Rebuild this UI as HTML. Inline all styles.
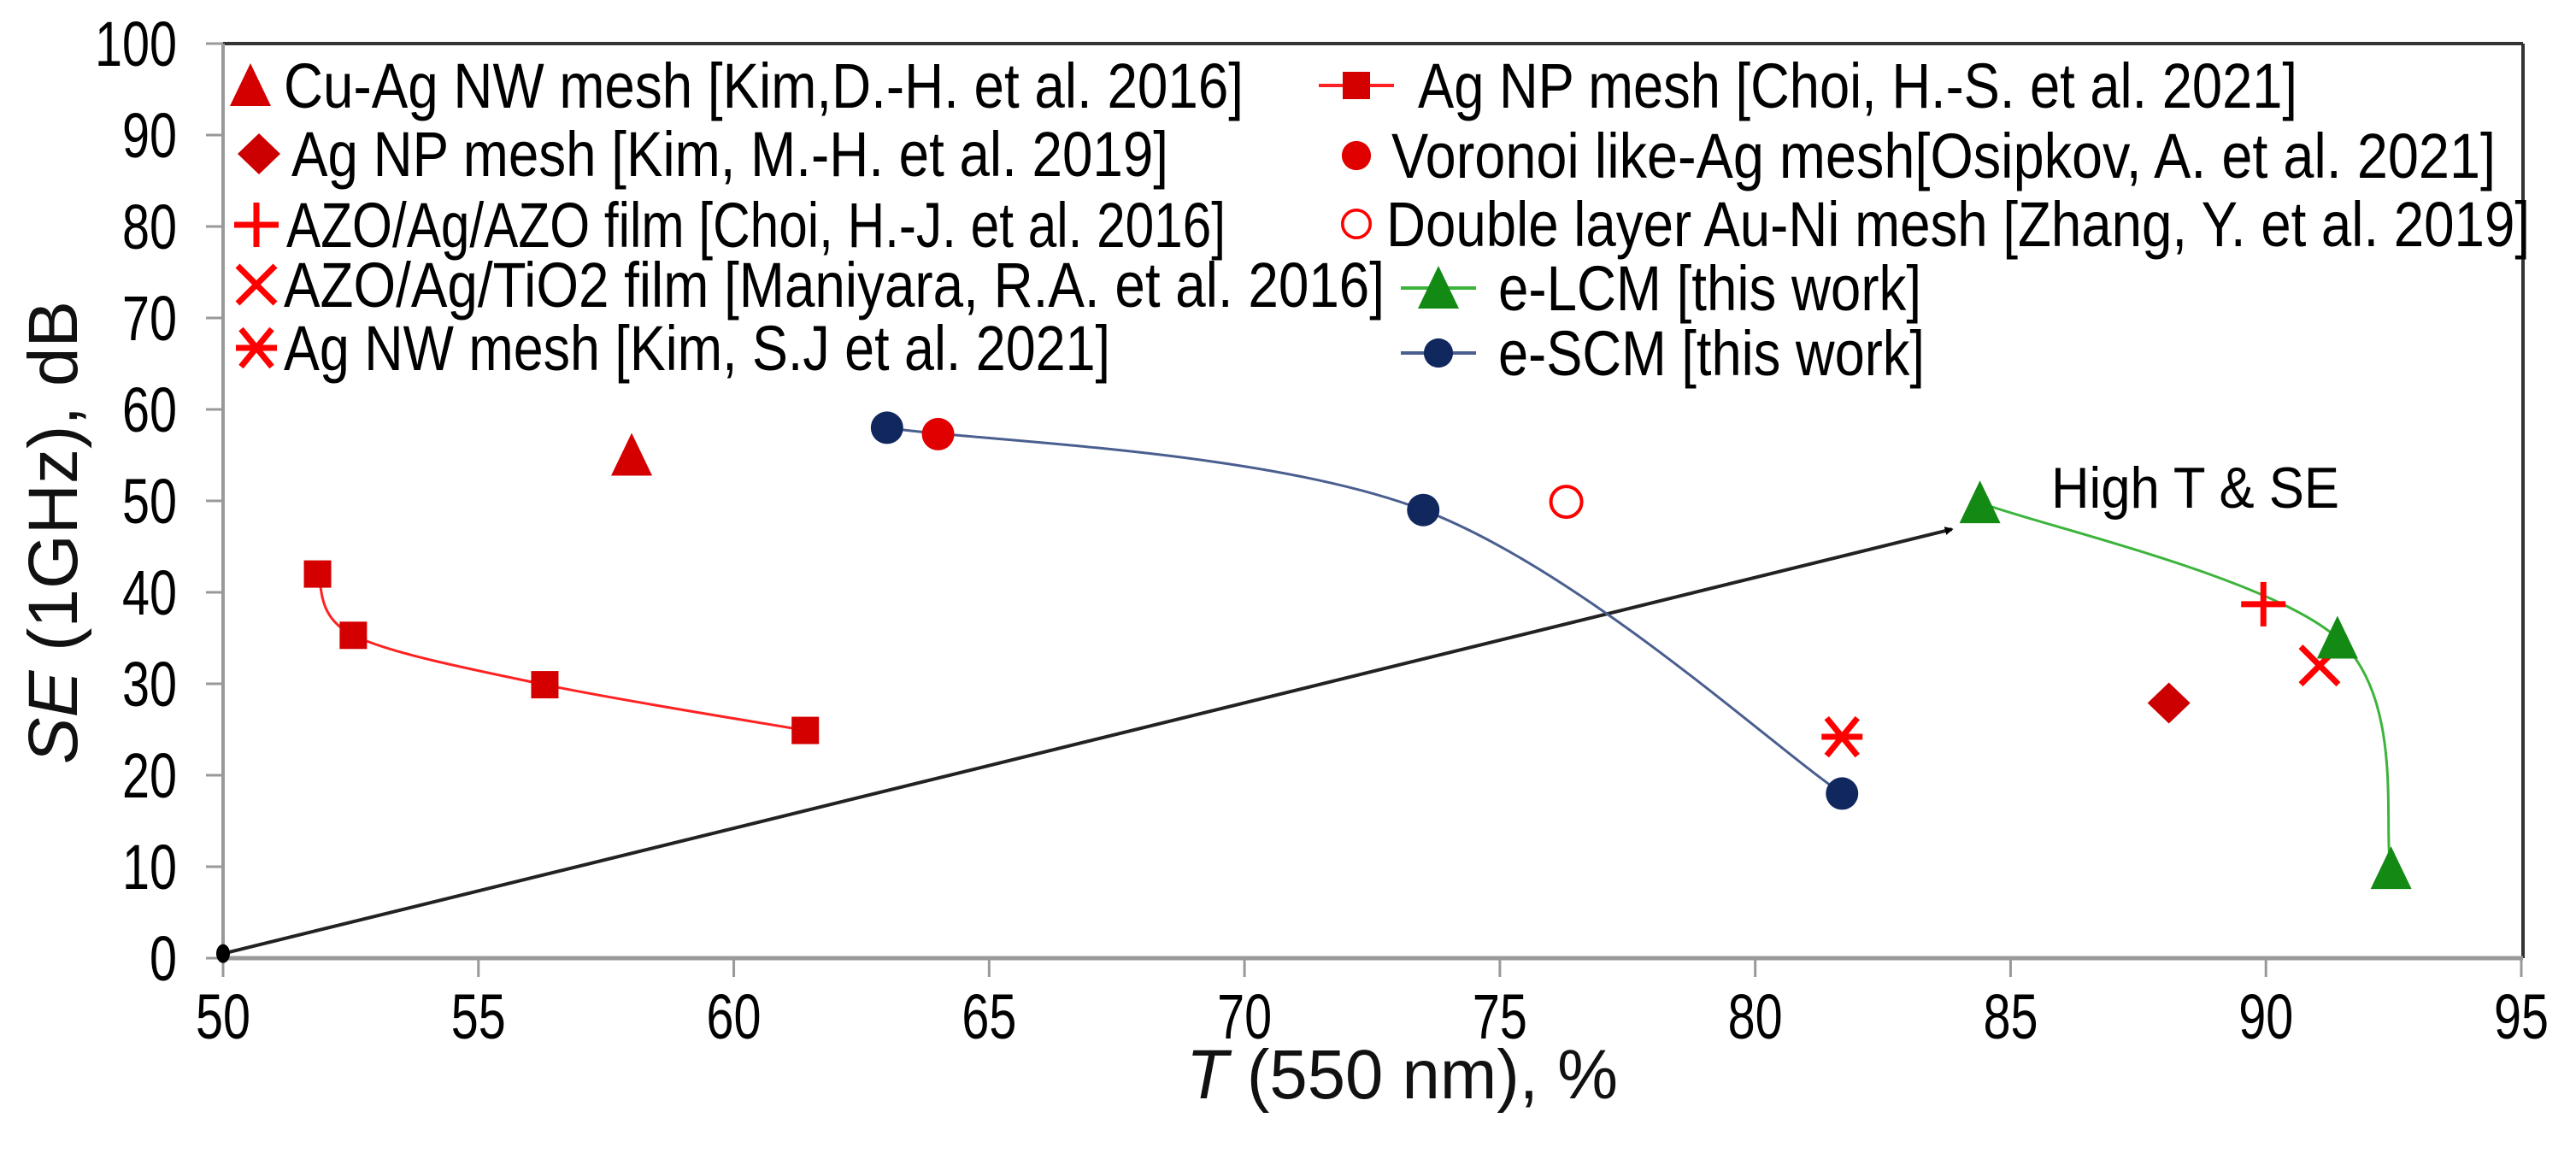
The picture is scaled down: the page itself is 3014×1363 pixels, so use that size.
<!DOCTYPE html>
<html><head><meta charset="utf-8"><style>
html,body{margin:0;padding:0;background:#fff;}
svg{display:block;font-family:"Liberation Sans",Arial,sans-serif;}
</style></head><body>
<svg id="chart" width="3014" height="1363" viewBox="0 0 3014 1363" xmlns="http://www.w3.org/2000/svg">
<defs>
<marker id="ah" markerWidth="10" markerHeight="10" refX="8" refY="5" orient="auto" markerUnits="userSpaceOnUse" viewBox="0 0 10 10"><path d="M0,0 L10,5 L0,10 z" fill="#000"/></marker>
</defs>
<g id="axes"></g>
<g id="series"></g>
<g id="legend"></g>
</svg>
<script>
const xTicks = [50,55,60,65,70,75,80,85,90,95];
const yTicks = [0,10,20,30,40,50,60,70,80,90,100];
// Data series
const choiT = [51.85,52.55,56.3,61.4];
const choiSE = [42,35.3,29.9,24.9];
const scmT = [63.0,73.5,81.7];
const scmSE = [58,49,18];
const lcmT = [84.4,91.4,92.45];
const lcmSE = [49.8,35,9.8];
const cuAgT = [58.0], cuAgSE = [55];
const kimT = [88.1], kimSE = [27.9];
const voronoiT = [64.0], voronoiSE = [57.3];
const azoT = [89.95], azoSE = [38.7];
const doubleT = [76.3], doubleSE = [49.9];
const tioT = [91.05], tioSE = [32.0];
const agnwT = [81.7], agnwSE = [24.2];
const arrowT = [50.0, 83.85], arrowSE = [0.5, 46.9];

const NS='http://www.w3.org/2000/svg';
const L=261,R=2952,T=51,B=1121;
const X=v=>L+(v-50)*(2950-261)/45;
const Y=v=>B-(v)*(B-T)/100;
function mk(tag,attrs,parent,text){const e=document.createElementNS(NS,tag);for(const k in attrs)e.setAttribute(k,attrs[k]);if(text!==undefined)e.textContent=text;parent.appendChild(e);return e;}
const axes=document.getElementById('axes'),ser=document.getElementById('series'),leg=document.getElementById('legend');

let f=mk('line',{x1:L,y1:T,x2:R,y2:T,stroke:'#333','stroke-width':4},axes);


f=mk('line',{x1:R,y1:T,x2:R,y2:B,stroke:'#333','stroke-width':4},axes);


f=mk('line',{x1:L,y1:T,x2:L,y2:B+2,stroke:'#999','stroke-width':4},axes);


f=mk('line',{x1:L,y1:B,x2:R,y2:B,stroke:'#999','stroke-width':5},axes);



yTicks.forEach(v=>{
  const t=mk('line',{x1:L-20,y1:Y(v),x2:L,y2:Y(v),stroke:'#999','stroke-width':3},axes);
  
  
  const s=String(v);
  const w=s.length*32;
  const e=mk('text',{x:207-w,y:Y(v)+26,'font-size':74,fill:'#000',textLength:w,lengthAdjust:'spacingAndGlyphs'},axes,s);
  
  
});
xTicks.forEach(v=>{
  const t=mk('line',{x1:X(v),y1:B,x2:X(v),y2:B+22,stroke:'#999','stroke-width':3},axes);
  
  
  const s=mk('text',{x:X(v)-32,y:1215,'font-size':74,fill:'#000',textLength:64,lengthAdjust:'spacingAndGlyphs'},axes,String(v));
  
  
});
let yt=mk('text',{transform:'translate(90,623) rotate(-90)','font-size':82,'text-anchor':'middle',fill:'#111'},axes);


mk('tspan',{'font-style':'italic'},yt,'SE');mk('tspan',{},yt,' (1GHz), dB');
let xt=mk('text',{x:1388,y:1285,'font-size':82,fill:'#111',textLength:505,lengthAdjust:'spacingAndGlyphs'},axes);


mk('tspan',{'font-style':'italic'},xt,'T');mk('tspan',{},xt,' (550 nm), %');

function marker(type,cx,cy,parent){
  const g=mk('g',{},parent);
  if(type==='tri'){mk('path',{d:`M${cx},${cy-26} L${cx+24},${cy+24} L${cx-24},${cy+24} Z`,fill:'#d40000'},g);}
  if(type==='gtri'){mk('path',{d:`M${cx},${cy-26} L${cx+24},${cy+24} L${cx-24},${cy+24} Z`,fill:'#138a13'},g);}
  if(type==='sq'){mk('rect',{x:cx-16,y:cy-16,width:32,height:32,fill:'#d40000'},g);}
  if(type==='dia'){mk('path',{d:`M${cx},${cy-24} L${cx+25},${cy} L${cx},${cy+24} L${cx-25},${cy} Z`,fill:'#cc0000'},g);}
  if(type==='dot'){mk('circle',{cx:cx,cy:cy,r:19,fill:'#e00000'},g);}
  if(type==='bdot'){mk('circle',{cx:cx,cy:cy,r:19,fill:'#10285e'},g);}
  if(type==='open'){mk('circle',{cx:cx,cy:cy,r:18,fill:'none',stroke:'#f00','stroke-width':4},g);}
  if(type==='plus'){mk('path',{d:`M${cx-26},${cy} H${cx+26} M${cx},${cy-26} V${cy+26}`,stroke:'#f00','stroke-width':7},g);}
  if(type==='x'){mk('path',{d:`M${cx-22},${cy-22} L${cx+22},${cy+22} M${cx+22},${cy-22} L${cx-22},${cy+22}`,stroke:'#f00','stroke-width':7},g);}
  if(type==='ast'){mk('path',{d:`M${cx-18},${cy-22} L${cx+18},${cy+22} M${cx+18},${cy-22} L${cx-18},${cy+22} M${cx-24},${cy} H${cx+24}`,stroke:'#f00','stroke-width':7},g);}
  return g;
}
function smooth(xs,ys){
  const p=xs.map((v,i)=>[X(v),Y(ys[i])]);
  let d=`M${p[0][0]},${p[0][1]}`;
  for(let i=0;i<p.length-1;i++){
    const p0=p[i-1]||p[i],p1=p[i],p2=p[i+1],p3=p[i+2]||p2;
    const c1=[p1[0]+(p2[0]-p0[0])/6,p1[1]+(p2[1]-p0[1])/6];
    const c2=[p2[0]-(p3[0]-p1[0])/6,p2[1]-(p3[1]-p1[1])/6];
    d+=` C${c1[0]},${c1[1]} ${c2[0]},${c2[1]} ${p2[0]},${p2[1]}`;
  }
  return d;
}
let ar=mk('line',{x1:X(arrowT[0]),y1:Y(arrowSE[0]),x2:X(arrowT[1]),y2:Y(arrowSE[1]),stroke:'#222','stroke-width':4,'marker-end':'url(#ah)'},ser);


let ad=mk('ellipse',{cx:X(arrowT[0]),cy:Y(arrowSE[0]),rx:8,ry:11,fill:'#000'},ser);


let ht=mk('text',{x:2400,y:594,'font-size':68,fill:'#000',textLength:337,lengthAdjust:'spacingAndGlyphs'},ser,'High T & SE');



let ln=mk('path',{d:smooth(choiT,choiSE),fill:'none',stroke:'#f22','stroke-width':3},ser);


ln=mk('path',{d:smooth(scmT,scmSE),fill:'none',stroke:'#4a5f8f','stroke-width':3},ser);


ln=mk('path',{d:smooth(lcmT,lcmSE),fill:'none',stroke:'#3cb43c','stroke-width':3},ser);



function pts(xs,ys,type,name){xs.forEach((v,i)=>{const g=marker(type,X(v),Y(ys[i]),ser);
  
  });}
pts(choiT,choiSE,'sq','choi-ag-np-point');
pts(cuAgT,cuAgSE,'tri','cu-ag-nw-point');
pts(kimT,kimSE,'dia','kim-ag-np-point');
pts(scmT,scmSE,'bdot','e-scm-point');
pts(voronoiT,voronoiSE,'dot','voronoi-point');
pts(doubleT,doubleSE,'open','double-layer-point');
pts(azoT,azoSE,'plus','azo-ag-azo-point');
pts(tioT,tioSE,'x','azo-ag-tio2-point');
pts(agnwT,agnwSE,'ast','ag-nw-point');
pts(lcmT,lcmSE,'gtri','e-lcm-point');

const legItems=[
 ['tri',293,100,332,100,'Cu-Ag NW mesh [Kim,D.-H. et al. 2016]',1455,null],
 ['dia',303,180,341,180,'Ag NP mesh [Kim, M.-H. et al. 2019]',1367,null],
 ['plus',300,263,335,263,'AZO/Ag/AZO film [Choi, H.-J. et al. 2016]',1434,null],
 ['x',300,333,332,333,'AZO/Ag/TiO2 film [Maniyara, R.A. et al. 2016]',1620,null],
 ['ast',300,407,332,407,'Ag NW mesh [Kim, S.J et al. 2021]',1299,null],
 ['sq',1587,100,1659,100,'Ag NP mesh [Choi, H.-S. et al. 2021]',2688,'#f22'],
 ['dot',1587,182,1628,182,'Voronoi like-Ag mesh[Osipkov, A. et al. 2021]',2920,null],
 ['open',1587,262,1622,262,'Double layer Au-Ni mesh [Zhang, Y. et al. 2019]',2960,null],
 ['gtri',1683,337,1753,337,'e-LCM [this work]',2248,'#3cb43c'],
 ['bdot',1683,413,1753,413,'e-SCM [this work]',2252,'#4a5f8f']
];
legItems.forEach(it=>{
  const g=mk('g',{},leg);
  
  
  if(it[7]) mk('line',{x1:it[1]-44,y1:it[2],x2:it[1]+44,y2:it[2],stroke:it[7],'stroke-width':4},g);
  const m=marker(it[0],it[1],it[2],g);
  if(it[0]==='dot'||it[0]==='bdot'||it[0]==='open'){
    m.setAttribute('transform',`translate(${it[1]*0.1},${it[2]*0.1}) scale(0.9)`);
  }
  const t=mk('text',{x:it[3],y:it[4]+26,'font-size':74,fill:'#000',textLength:it[6]-it[3],lengthAdjust:'spacingAndGlyphs'},g,it[5]);
  
  
});
</script>
</body></html>
